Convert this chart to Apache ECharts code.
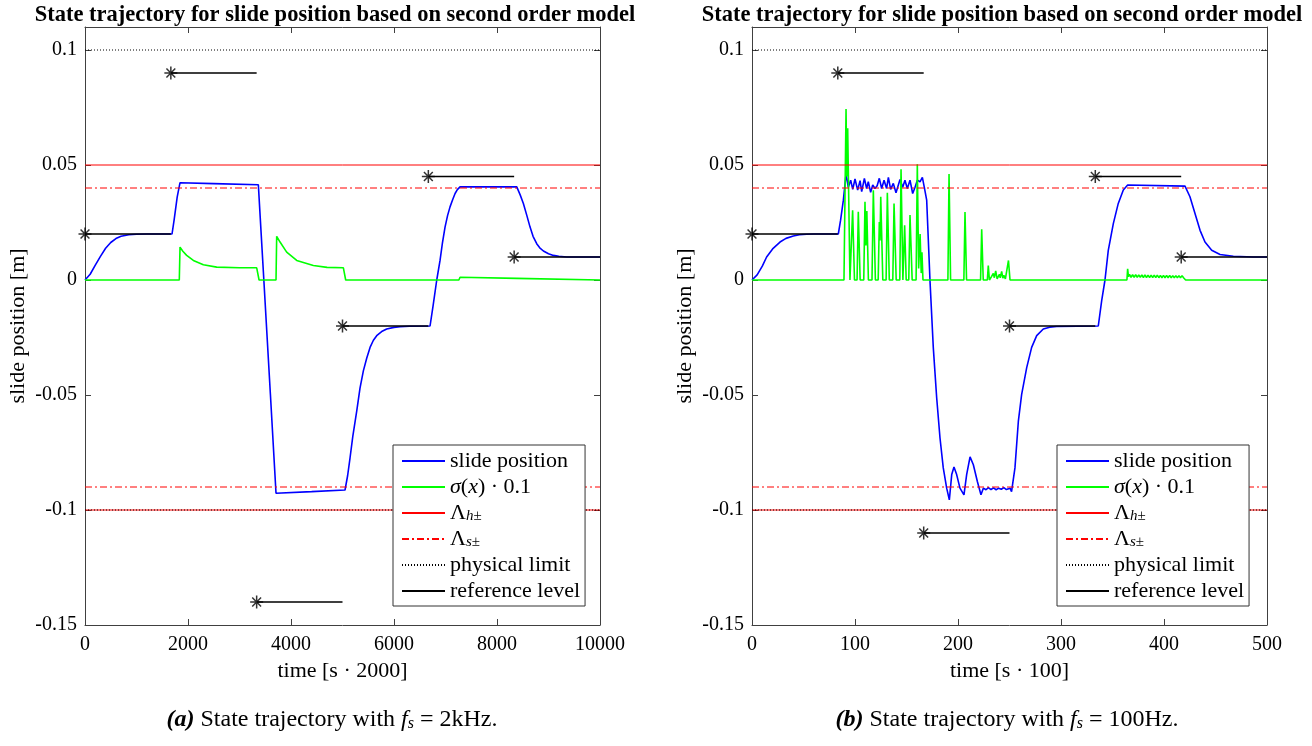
<!DOCTYPE html>
<html>
<head>
<meta charset="utf-8">
<title>State trajectory for slide position</title>
<script src="https://cdn.jsdelivr.net/npm/echarts@6/dist/echarts.min.js"></script>
<style>
  html, body { margin: 0; padding: 0; background: #fff; }
  #chart { width: 1312px; height: 746px; }
</style>
</head>
<body>
<div id="chart"></div>
<script>
// ---------- panel (a): fs = 2 kHz, time in samples ----------
const timeMaxA = 10000;
const timeTicksA = 2000;
const slidePosA = [
  [0,0],[100,0.0025],[200,0.0065],[300,0.0103],[400,0.0138],[500,0.0163],[600,0.018],
  [700,0.019],[850,0.0197],[1000,0.0199],[1200,0.02],[1690,0.02],[1730,0.026],[1790,0.036],
  [1845,0.0423],[2500,0.0419],[3366,0.0414],[3400,0.0281],[3462,0.0041],[3600,-0.0497],
  [3709,-0.0927],[4400,-0.092],[5049,-0.0913],[5100,-0.085],[5146,-0.0774],[5200,-0.068],
  [5276,-0.057],[5340,-0.047],[5405,-0.0395],[5470,-0.034],[5535,-0.0293],[5600,-0.0262],
  [5664,-0.0242],[5760,-0.0224],[5858,-0.0213],[6000,-0.0206],[6117,-0.0203],[6300,-0.0201],
  [6700,-0.02],[6760,-0.011],[6830,0],[6894,0.0085],[6940,0.016],[6991,0.023],[7040,0.028],
  [7088,0.0318],[7140,0.035],[7186,0.0376],[7230,0.0393],[7282,0.0405],[8384,0.0405],
  [8450,0.037],[8512,0.0333],[8580,0.028],[8642,0.023],[8700,0.019],[8771,0.0158],
  [8830,0.014],[8901,0.0126],[9000,0.0114],[9095,0.0107],[9200,0.0103],[9354,0.01],[10000,0.01]
];
const sigmaA = [
  [0,0],[1831,0],[1845,0.0143],[1900,0.0125],[1974,0.0107],[2104,0.0085],[2298,0.0066],
  [2557,0.0056],[3000,0.0053],[3334,0.0053],[3380,0],[3709,0],[3722,0.019],[3787,0.0165],
  [3916,0.0121],[4111,0.0085],[4434,0.0063],[4700,0.0055],[5017,0.0053],[5062,0],
  [7260,0],[7282,0.0012],[8384,0.0007],[8400,0],[10000,0]
];
const refStartsA = [0, 1667, 3333, 5000, 6667, 8333];
const refLevelsA = [0.02, 0.09, -0.14, -0.02, 0.045, 0.01];

// ---------- panel (b): fs = 100 Hz ----------
const timeMaxB = 500;
const timeTicksB = 100;
const slidePosB = [
  [0,0],[5,0.0022],[10,0.006],[14.2,0.01],[20,0.0135],[27.2,0.0165],[33,0.0181],[40.1,0.0191],
  [46,0.0197],[53,0.0199],[60,0.02],[83.8,0.02],[86,0.026],[88.7,0.0347],[91.3,0.0461],
  [93.5,0.0403],[95.8,0.0434],[97.8,0.0394],[100,0.0439],[102.6,0.0391],[104.9,0.0432],
  [106.5,0.0384],[109.1,0.0442],[111.3,0.0398],[112.9,0.0427],[115.2,0.0381],[117.2,0.0413],
  [119.4,0.0398],[121.5,0.041],[123.6,0.0442],[125.9,0.0398],[128.2,0.0434],[130.7,0.0398],
  [132.4,0.0446],[134.6,0.0394],[137.2,0.042],[139.8,0.0379],[143.7,0.0437],[146.3,0.0403],
  [148.5,0.0434],[150.8,0.0398],[153.4,0.0434],[156,0.0376],[158.3,0.0403],[160.5,0.0434],
  [163.1,0.0427],[165.4,0.0446],[167.3,0.0403],[169.6,0.0347],[172.8,-0.0002],[176,-0.0293],
  [179.3,-0.0512],[182.5,-0.0686],[185.7,-0.0817],[189,-0.0905],[191.6,-0.0956],[193.9,-0.0846],
  [196.1,-0.0813],[198.7,-0.0846],[201.9,-0.0905],[205.8,-0.0934],[208.4,-0.0846],[211.7,-0.0769],
  [214.9,-0.0803],[218.8,-0.0876],[222.3,-0.0934],[224.6,-0.0905],[227.2,-0.0912],[229.5,-0.0903],
  [232,-0.0911],[234.5,-0.0904],[237,-0.0912],[239.5,-0.0905],[242,-0.091],[244.5,-0.0903],
  [247,-0.0911],[250.5,-0.0905],[252,-0.092],[255.3,-0.0817],[258.6,-0.0614],[261.8,-0.0497],
  [266.7,-0.0381],[271.5,-0.0293],[276.4,-0.0242],[282.8,-0.0213],[289,-0.0205],[295.8,-0.0202],
  [336.2,-0.02],[339.5,-0.009],[342.7,0],[345.9,0.0129],[350.8,0.0245],[355.6,0.0333],
  [360.5,0.0391],[364.7,0.0413],[420.4,0.0408],[425.2,0.0362],[430.1,0.0289],[435,0.0216],
  [439.8,0.0165],[446.3,0.0129],[454.4,0.0111],[467.3,0.0103],[486.7,0.01],[500,0.01]
];
const sigmaB = [
  [0,0],[89.3,0],[91.3,0.0743],[92.1,0.045],[92.9,0.066],[95.1,0],
  [96.5,0],[97.7,0.0303],[99.5,0],
  [102,0],[103.2,0.0297],[105,0],
  [108.5,0],[109.7,0.034],[110.6,0.015],[111.5,0.03],[113,0],
  [116.5,0],[117.8,0.039],[119.8,0],
  [122.5,0],[123.6,0.0252],[124.3,0.0172],[125,0.0362],[127,0],
  [130.2,0],[131.4,0.0379],[133.3,0],
  [136.7,0],[137.9,0.0333],[140,0],
  [143.5,0],[144.7,0.0481],[146.5,0],[147.3,0],[148.2,0.0238],[149.7,0],
  [152.2,0],[153.4,0.0282],[155.5,0],
  [159.3,0],[160.5,0.0503],[161.8,0.005],[163.2,0.02],[164.3,0.003],[165,0.012],[166,0],
  [190.2,0],[191.3,0.0461],[192.8,0],
  [205.7,0],[206.8,0.0296],[208.3,0],
  [221.9,0],[223,0.0221],[224.5,0],
  [228.5,0],[229.4,0.0063],[230.5,0],[232.5,0.0015],[234.3,0.0029],[235.3,0.001],[236.6,0.004],
  [238,0.0005],[240.2,0.0025],[241,0.001],[242.4,0.0037],[243.5,0.0008],[244.5,0.002],[246,0.0005],
  [249,0.0085],[250.5,0],
  [364,0],[364.7,0.0049],[365.5,0.0015],[366.5,0.0024],[368,0.0012],[369.5,0.0023],[371,0.0012],
  [372.5,0.0023],[374,0.0012],[375.5,0.0022],[377,0.0012],[378.5,0.0022],[380,0.0011],
  [381.5,0.0022],[383,0.0011],[384.5,0.0021],[386,0.0011],[387.5,0.0021],[389,0.0011],
  [390.5,0.0021],[392,0.0011],[393.5,0.0021],[395,0.001],[396.5,0.002],[398,0.001],
  [399.5,0.002],[401,0.001],[402.5,0.002],[404,0.001],[405.5,0.002],[407,0.001],[408.5,0.0019],
  [410,0.001],[411.5,0.0019],[413,0.001],[414.5,0.0019],[416,0.001],[417.5,0.0019],[419,0.001],
  [420.4,0.0012],[421,0],[500,0]
];
const refStartsB = [0, 83.3, 166.7, 250, 333.3, 416.7];
const refLevelsB = [0.02, 0.09, -0.11, -0.02, 0.045, 0.01];

// ---------- shared limits and axis ----------
const hardLimits = [0.05, -0.1];
const softLimits = [0.04, -0.09];
const physLimits = [0.1, -0.1];
const yMin = -0.15, yMax = 0.11, yStep = 0.05;

const seriesNames = ['slide position', 'sigma', 'hard limit', 'soft limit', 'physical limit', 'reference level'];
const titleText = 'State trajectory for slide position based on second order model';
const xNames = ['time [s · 2000]', 'time [s · 100]'];
const yName = 'slide position [m]';

const SERIF = '"Liberation Serif", "Times New Roman", serif';
const AXIS_GREY = '#404040';

// horizontal lines across the whole time range, broken between levels
function levelLines(levels, tMax) {
  const out = [];
  levels.forEach((v, i) => {
    if (i > 0) out.push([tMax, '-']);
    out.push([0, v], [tMax, v]);
  });
  return out;
}
// stepwise reference segments, each starting at its marker
function refSegments(starts, levels, tMax) {
  const out = [];
  starts.forEach((s, i) => {
    const e = i + 1 < starts.length ? starts[i + 1] : tMax;
    if (i > 0) out.push([s, '-']);
    out.push([s, levels[i]], [e, levels[i]]);
  });
  return out;
}

const starPath = 'path://M5 0V10M0 5H10M1.6 1.6L8.4 8.4M1.6 8.4L8.4 1.6';

function panelSeries(k, pos, sig, starts, levels, tMax) {
  const xi = k * 2, yi = k * 2;
  const base = { type: 'line', xAxisIndex: xi, yAxisIndex: yi, symbol: 'none', animation: false, silent: true };
  return [
    Object.assign({}, base, { name: seriesNames[0], data: pos, lineStyle: { color: '#0000ff', width: 1.6 }, itemStyle: { color: '#0000ff' }, z: 2 }),
    Object.assign({}, base, { name: seriesNames[1], data: sig, lineStyle: { color: '#00ff00', width: 1.6 }, itemStyle: { color: '#00ff00' }, z: 2 }),
    Object.assign({}, base, { name: seriesNames[2], data: levelLines(hardLimits, tMax), lineStyle: { color: '#ff0000', width: 1 }, itemStyle: { color: '#ff0000' }, z: 2 }),
    Object.assign({}, base, { name: seriesNames[3], data: levelLines(softLimits, tMax), lineStyle: { color: '#ff0000', width: 1, type: [7, 3, 2, 3] }, itemStyle: { color: '#ff0000' }, z: 2 }),
    Object.assign({}, base, { name: seriesNames[4], data: levelLines(physLimits, tMax), lineStyle: { color: '#000', width: 1, type: [1, 2] }, itemStyle: { color: '#000' }, z: 2 }),
    Object.assign({}, base, { name: seriesNames[5], data: refSegments(starts, levels, tMax), lineStyle: { color: '#000', width: 1.3 }, itemStyle: { color: '#000' }, z: 2 }),
    {
      type: 'scatter', name: 'reference start', xAxisIndex: xi, yAxisIndex: yi,
      data: starts.map((s, i) => [s, levels[i]]),
      symbol: starPath, symbolSize: 13, animation: false, silent: true, z: 3,
      itemStyle: { color: 'transparent', borderColor: '#000', borderWidth: 1.5 }
    }
  ];
}

function xAxes(k, tMax, step, name) {
  const common = {
    type: 'value', gridIndex: k, min: 0, max: tMax, interval: step,
    axisLine: { onZero: false, lineStyle: { color: AXIS_GREY, width: 1 } },
    axisTick: { inside: true, length: 6, lineStyle: { color: AXIS_GREY } },
    splitLine: { show: false }
  };
  return [
    Object.assign({}, common, {
      position: 'bottom', name: name, nameLocation: 'middle', nameGap: 33,
      nameTextStyle: { fontFamily: SERIF, fontSize: 22, color: '#000' },
      axisLabel: { fontFamily: SERIF, fontSize: 20, color: '#000', margin: 10, formatter: v => String(v) }
    }),
    Object.assign({}, common, { position: 'top', axisLabel: { show: false } })
  ];
}
function yAxes(k) {
  const common = {
    type: 'value', gridIndex: k, min: yMin, max: yMax, interval: yStep,
    axisLine: { show: true, onZero: false, lineStyle: { color: AXIS_GREY, width: 1 } },
    axisTick: { show: true, inside: true, length: 6, lineStyle: { color: AXIS_GREY } },
    splitLine: { show: false }
  };
  return [
    Object.assign({}, common, {
      position: 'left', name: yName, nameLocation: 'middle', nameGap: 56, nameRotate: 90,
      nameTextStyle: { fontFamily: SERIF, fontSize: 22, color: '#000' },
      axisLabel: { fontFamily: SERIF, fontSize: 20, color: '#000', margin: 8, showMaxLabel: false }
    }),
    Object.assign({}, common, { position: 'right', axisLabel: { show: false } })
  ];
}

const legendRich = {
  it: { fontFamily: SERIF, fontSize: 22, fontStyle: 'italic', color: '#000' },
  sub: { fontFamily: SERIF, fontSize: 15, fontStyle: 'italic', color: '#000', verticalAlign: 'bottom', lineHeight: 16 },
  subu: { fontFamily: SERIF, fontSize: 15, color: '#000', verticalAlign: 'bottom', lineHeight: 16 }
};
const legendLabels = {
  'slide position': 'slide position',
  'sigma': '{it|σ}({it|x}) · 0.1',
  'hard limit': 'Λ{sub|h}{subu|±}',
  'soft limit': 'Λ{sub|s}{subu|±}',
  'physical limit': 'physical limit',
  'reference level': 'reference level'
};
function legendAt(left) {
  return {
    data: seriesNames, orient: 'vertical', left: left, top: 445, z: 20,
    itemWidth: 43, itemHeight: 14, itemGap: 4, selectedMode: false,
    padding: [5, 5, 4, 8],
    backgroundColor: '#fff', borderColor: '#333', borderWidth: 1,
    itemStyle: { opacity: 0 },
    formatter: n => legendLabels[n],
    textStyle: { fontFamily: SERIF, fontSize: 22, color: '#000', lineHeight: 22, rich: legendRich }
  };
}

const captionRich = {
  b: { fontFamily: SERIF, fontSize: 24, fontWeight: 'bold', fontStyle: 'italic', color: '#000' },
  n: { fontFamily: SERIF, fontSize: 24, fontWeight: 'normal', color: '#000' },
  i: { fontFamily: SERIF, fontSize: 24, fontWeight: 'normal', fontStyle: 'italic', color: '#000' },
  s: { fontFamily: SERIF, fontSize: 16, fontWeight: 'normal', fontStyle: 'italic', color: '#000', verticalAlign: 'bottom', lineHeight: 19 }
};
const titleStyle = { fontFamily: SERIF, fontSize: 22.5, fontWeight: 'bold', color: '#000' };

const option = {
  backgroundColor: '#fff',
  animation: false,
  title: [
    { text: titleText, left: 330, top: -1, textAlign: 'center', textStyle: titleStyle },
    { text: titleText, left: 997, top: -1, textAlign: 'center', textStyle: titleStyle },
    { text: '{b|(a)}{n| State trajectory with }{i|f}{s|s}{n| = 2kHz.}', left: 327, top: 703, textAlign: 'center', textStyle: { fontWeight: 'normal', rich: captionRich } },
    { text: '{b|(b)}{n| State trajectory with }{i|f}{s|s}{n| = 100Hz.}', left: 1002, top: 703, textAlign: 'center', textStyle: { fontWeight: 'normal', rich: captionRich } }
  ],
  grid: [
    { left: 85, width: 515, top: 27, height: 598 },
    { left: 752, width: 515, top: 27, height: 598 }
  ],
  xAxis: [].concat(xAxes(0, timeMaxA, timeTicksA, xNames[0]), xAxes(1, timeMaxB, timeTicksB, xNames[1])),
  yAxis: [].concat(yAxes(0), yAxes(1)),
  legend: [legendAt(393), legendAt(1057)],
  series: [].concat(
    panelSeries(0, slidePosA, sigmaA, refStartsA, refLevelsA, timeMaxA),
    panelSeries(1, slidePosB, sigmaB, refStartsB, refLevelsB, timeMaxB)
  )
};

const chart = echarts.init(document.getElementById('chart'), null, { renderer: 'canvas' });
chart.setOption(option);
</script>
</body>
</html>
